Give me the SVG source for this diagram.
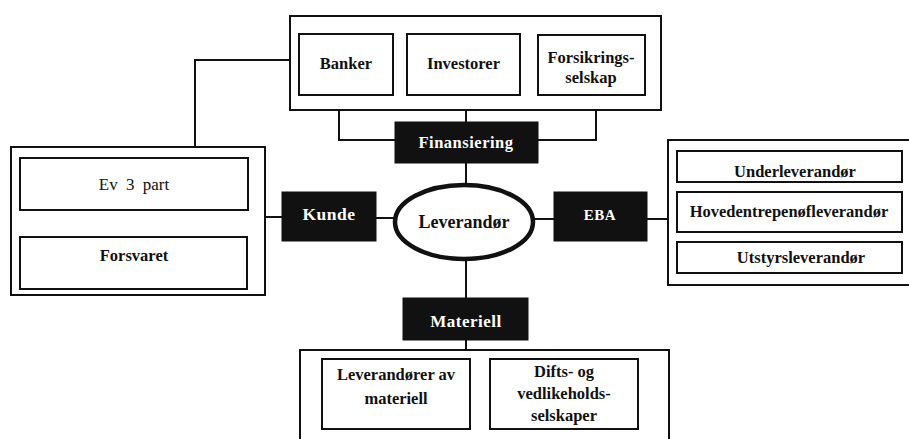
<svg xmlns="http://www.w3.org/2000/svg" width="909" height="439" viewBox="0 0 909 439">
<style>
.box{fill:#fff;stroke:#111;stroke-width:2}
.dark{fill:#111;stroke:#111;stroke-width:1}
.ln{fill:none;stroke:#111;stroke-width:2}
text{font-family:"Liberation Serif","Times New Roman",serif;font-weight:bold;text-anchor:middle}
.t{font-size:16.5px;fill:#111}
.w{font-size:16.5px;fill:#fff;letter-spacing:0.5px}
</style>
<rect width="909" height="439" fill="#fff"/>
<g id="connectors">
<polyline class="ln" points="290,60 195,60 195,147"/>
<polyline class="ln" points="339,110 339,140 395,140"/>
<polyline class="ln" points="596,110 596,140 538,140"/>
<line class="ln" x1="466" y1="110" x2="466" y2="122"/>
<line class="ln" x1="466" y1="163" x2="466" y2="184"/>
<line class="ln" x1="264" y1="217" x2="282" y2="217"/>
<line class="ln" x1="376" y1="218" x2="394" y2="218"/>
<line class="ln" x1="534" y1="219" x2="554" y2="219"/>
<line class="ln" x1="647" y1="219" x2="668" y2="219"/>
<line class="ln" x1="466" y1="260" x2="466" y2="298"/>
<line class="ln" x1="466" y1="340" x2="466" y2="350"/>
</g>
<g id="finansgruppe">
<rect class="box" x="290" y="16" width="371" height="94"/>
<g id="banker"><rect class="box" x="299" y="34" width="94" height="61"/><text class="t" x="346" y="69">Banker</text></g>
<g id="investorer"><rect class="box" x="407" y="34" width="113" height="61"/><text class="t" x="463.5" y="69">Investorer</text></g>
<g id="forsikring"><rect class="box" x="538" y="35" width="107" height="60"/><text class="t" x="591" y="63">Forsikrings-</text><text class="t" x="591" y="83">selskap</text></g>
</g>
<g id="finansiering"><rect class="dark" x="395" y="122" width="143" height="41"/><text class="w" x="466" y="148">Finansiering</text></g>
<g id="kundegruppe">
<rect class="box" x="11" y="147" width="254" height="148"/>
<g id="ev3part"><rect class="box" x="20" y="158" width="228" height="52"/><text class="t" x="134" y="190" style="font-weight:normal;font-size:17px;word-spacing:4px">Ev 3 part</text></g>
<g id="forsvaret"><rect class="box" x="20" y="237" width="227" height="52"/><text class="t" x="134" y="261">Forsvaret</text></g>
</g>
<g id="kunde"><rect class="dark" x="282" y="192" width="94" height="49"/><text class="w" x="329" y="220" style="font-size:17.5px">Kunde</text></g>
<g id="leverandor"><ellipse cx="464" cy="222" rx="69" ry="37" fill="#fff" stroke="#111" stroke-width="4.5"/><text x="464" y="228" style="font-size:18px;fill:#111">Leverandør</text></g>
<g id="eba"><rect class="dark" x="554" y="192" width="93" height="49"/><text class="w" x="600" y="220" style="font-size:15px">EBA</text></g>
<g id="ebagruppe">
<rect class="box" x="668" y="140" width="250" height="145"/>
<g id="underleverandor"><rect class="box" x="677" y="151" width="225" height="31"/><text class="t" x="795" y="177">Underleverandør</text></g>
<g id="hovedentreprenor"><rect class="box" x="677" y="192" width="225" height="40"/><text class="t" x="789" y="217">Hovedentrepenøfleverandør</text></g>
<g id="utstyrsleverandor"><rect class="box" x="677" y="242" width="225" height="31"/><text class="t" x="801" y="263">Utstyrsleverandør</text></g>
</g>
<g id="materiell"><rect class="dark" x="403" y="298" width="125" height="42"/><text class="w" x="466" y="327" style="font-size:17px">Materiell</text></g>
<g id="materiellgruppe">
<rect class="box" x="300" y="350" width="369" height="100"/>
<g id="levmateriell"><rect class="box" x="322" y="359" width="148" height="70"/><text class="t" x="396" y="380">Leverandører av</text><text class="t" x="396" y="404">materiell</text></g>
<g id="drift"><rect class="box" x="490" y="359" width="148" height="70"/><text class="t" x="564" y="377">Difts- og</text><text class="t" x="564" y="399">vedlikeholds-</text><text class="t" x="564" y="421">selskaper</text></g>
</g>
</svg>
